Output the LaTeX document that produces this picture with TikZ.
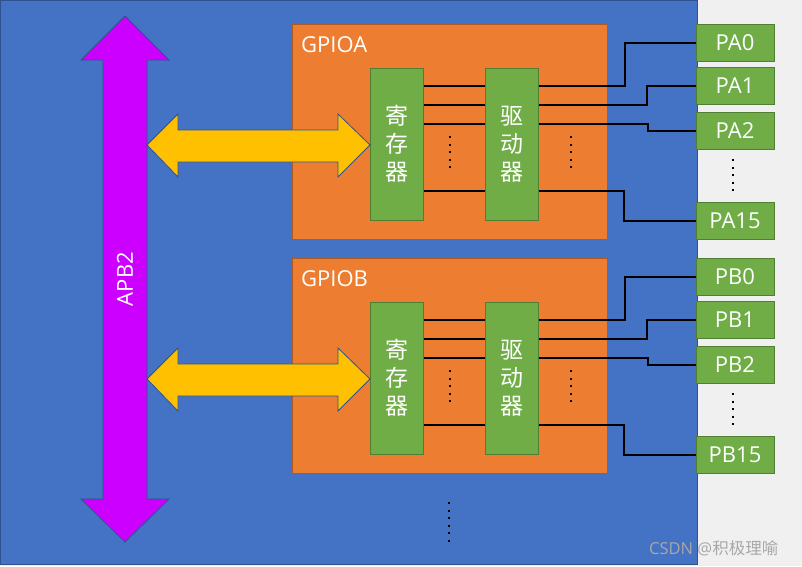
\documentclass[tikz,border=0pt]{standalone}
\usepackage{fontspec}
\setmainfont{Open Sans}
\newfontfamily\cjk{Noto Sans CJK SC}
\usetikzlibrary{calc}
\definecolor{bggray}{HTML}{F0F0F0}
\definecolor{bgblue}{HTML}{4472C4}
\definecolor{blueline}{HTML}{2F528F}
\definecolor{orangefill}{HTML}{ED7D31}
\definecolor{orangeline}{HTML}{AE5A21}
\definecolor{greenfill}{HTML}{70AD47}
\definecolor{greenline}{HTML}{507E32}
\definecolor{yellowfill}{HTML}{FFC000}
\definecolor{purplefill}{HTML}{CC00FF}
\definecolor{wmark}{HTML}{A8A8A8}
\tikzset{
  gpio/.style={draw=orangeline, fill=orangefill, line width=0.8pt, minimum width=315pt, minimum height=215pt, inner sep=0pt},
  gbox/.style={draw=greenline, fill=greenfill, line width=1pt, minimum width=53pt, minimum height=152pt, inner sep=0pt, align=center, text=white, font=\cjk\fontsize{23}{28}\selectfont},
  pinbox/.style={draw=greenline, fill=greenfill, line width=1pt, minimum width=78pt, minimum height=37pt, inner sep=0pt, text=white, font=\fontsize{22}{26}\selectfont},
  lbl/.style={text=white, inner sep=0pt, font=\fontsize{22}{26}\selectfont},
  wire/.style={draw=black, line width=2pt},
  dotline/.style={draw=black, line width=2pt, dash pattern=on 2pt off 5.5pt},
  yarrow/.style={fill=yellowfill, draw=blueline, line width=0.8pt},
  parrow/.style={fill=purplefill, draw=blueline, line width=0.8pt}
}
\begin{document}
\begin{tikzpicture}[x=1pt,y=-1pt]
\useasboundingbox (0,0) rectangle (802,566);
\fill[bggray] (0,0) rectangle (802,566);
\draw[blueline, fill=bgblue, line width=1pt] (0,0) rectangle (697,564);
% APB2 bus arrow
\draw[parrow] (125,16) -- (169,60) -- (147,60) -- (147,499) -- (169,499) -- (125,542) -- (81,499) -- (103,499) -- (103,60) -- (81,60) -- cycle;
\node[lbl, rotate=90] (apb) at (125,279) {APB2};
\foreach \p/\o in {A/0,B/234}{
  \node[gpio] (gpio\p) at (449.5,131.5+\o) {};
  \node[lbl, anchor=west] (lbl\p) at (301,45+\o) {GPIO\p};
  \node[gbox] (reg\p) at (396.5,144+\o) {寄\\存\\器};
  \node[gbox] (drv\p) at (511.5,144+\o) {驱\\动\\器};
  \node[pinbox] (p\p0) at (735,42.5+\o) {P\p0};
  \node[pinbox] (p\p1) at (735,86+\o) {P\p1};
  \node[pinbox] (p\p2) at (735,130.5+\o) {P\p2};
  \node[pinbox] (p\p15) at (735,220.5+\o) {P\p15};
  \foreach \y in {86,105,124,191}
    \draw[wire] (reg\p.east |- 0,\y+\o) -- (drv\p.west |- 0,\y+\o);
  \draw[wire] (drv\p.east |- 0,86+\o) -- (625,86+\o) |- (p\p0.west);
  \draw[wire] (drv\p.east |- 0,105+\o) -- (647,105+\o) |- (p\p1.west);
  \draw[wire] (drv\p.east |- 0,124+\o) -- (648,124+\o) |- (p\p2.west);
  \draw[wire] (drv\p.east |- 0,191+\o) -- (624,191+\o) |- (p\p15.west);
  \draw[dotline] (450,136+\o) -- (450,172+\o);
  \draw[dotline] (571,136+\o) -- (571,172+\o);
  \draw[dotline] (733,159+\o) -- (733,195+\o);
  \draw[yarrow] (147,145+\o) -- (178,114+\o) -- (178,130+\o) -- (338,130+\o) -- (338,114+\o) -- (370,145+\o) -- (338,177+\o) -- (338,162+\o) -- (178,162+\o) -- (178,177+\o) -- cycle;
}
\draw[dotline] (449,502) -- (449,542);
\node[anchor=west, inner sep=0pt, text=wmark, font=\fontsize{16.5}{19}\selectfont] (wm) at (649,548) {CSDN @{\cjk 积极理喻}};
\end{tikzpicture}
\end{document}
